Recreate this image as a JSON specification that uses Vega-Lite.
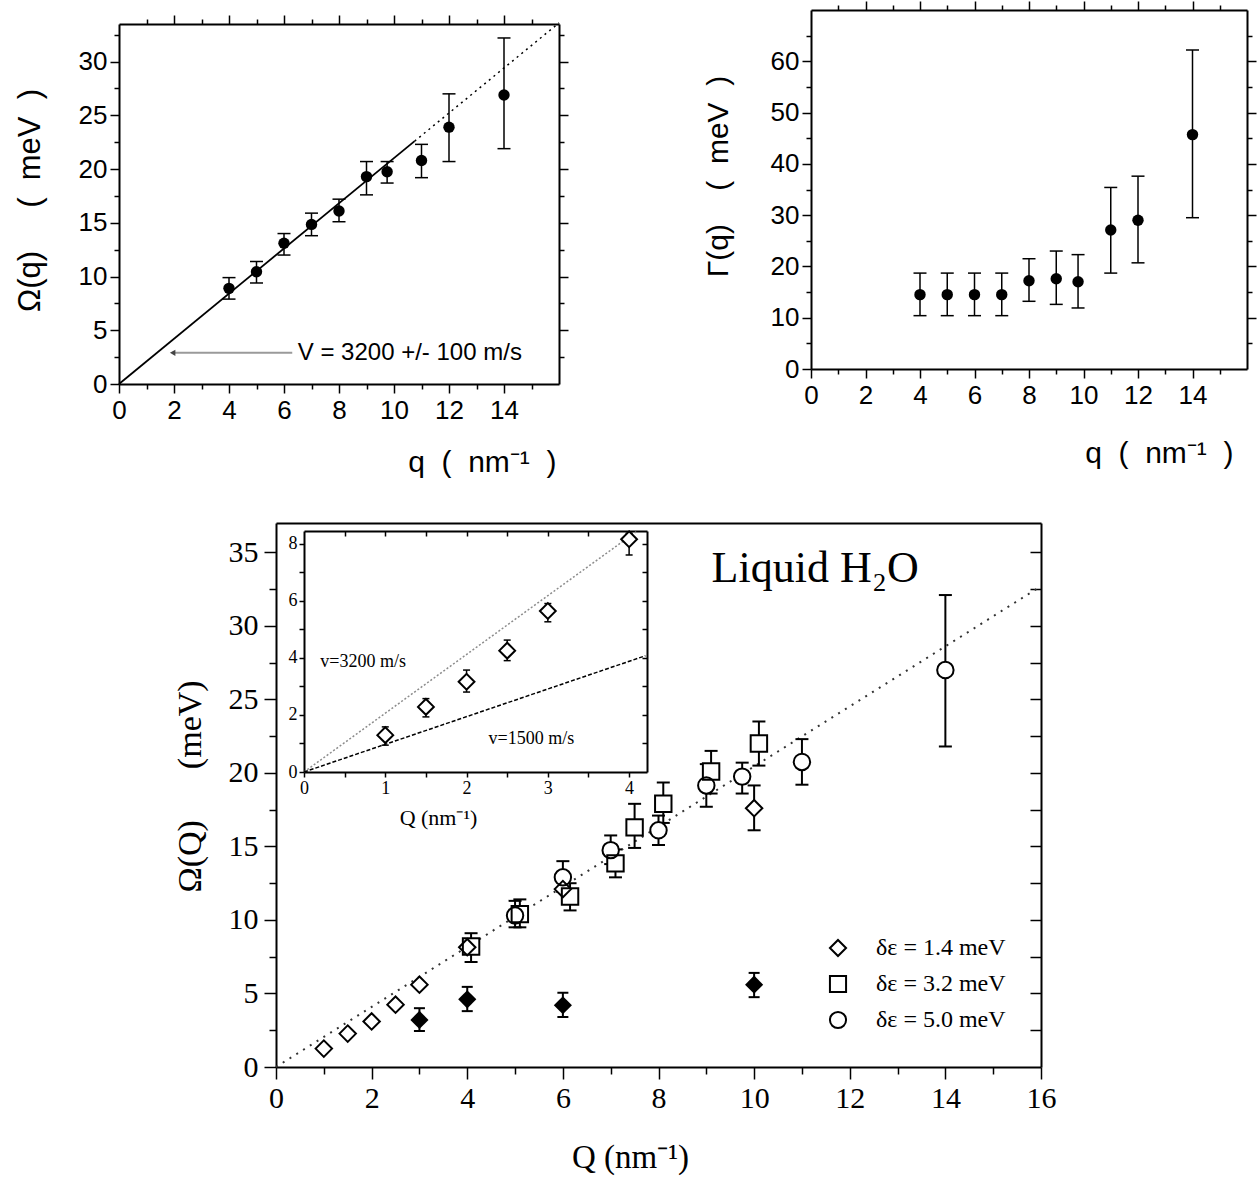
{
  "$schema": "https://vega.github.io/schema/vega-lite/v6.json",
  "width": 1257,
  "height": 1179,
  "autosize": {"type": "none"},
  "padding": 0,
  "background": "white",
  "config": {
    "view": {"stroke": null},
    "axis": {"grid": false, "domainColor": "black", "tickColor": "black", "labelColor": "black", "titleColor": "black", "titleFontWeight": "normal", "labelFlush": false, "labelOverlap": false, "domainWidth": 2, "tickWidth": 1.5},
    "legend": {"symbolStrokeColor": "black", "symbolFillColor": "white", "symbolStrokeWidth": 2, "symbolOpacity": 1}
  },
  "datasets": {
    "tl": [
      {"q": 4, "w": 8.9, "lo": 7.9, "hi": 9.9},
      {"q": 5, "w": 10.45, "lo": 9.4, "hi": 11.4},
      {"q": 6, "w": 13.1, "lo": 12.0, "hi": 14.0},
      {"q": 7, "w": 14.85, "lo": 13.8, "hi": 15.9},
      {"q": 8, "w": 16.1, "lo": 15.1, "hi": 17.2},
      {"q": 9, "w": 19.3, "lo": 17.6, "hi": 20.7},
      {"q": 9.75, "w": 19.75, "lo": 18.7, "hi": 20.7},
      {"q": 11, "w": 20.8, "lo": 19.2, "hi": 22.3},
      {"q": 12, "w": 23.9, "lo": 20.7, "hi": 27.0},
      {"q": 14, "w": 26.9, "lo": 21.9, "hi": 32.2}
    ],
    "tlfit": [
      {"q": 0, "w": 0, "seg": "solid"},
      {"q": 10.75, "w": 22.6, "seg": "solid"},
      {"q": 10.75, "w": 22.6, "seg": "dotted"},
      {"q": 16, "w": 33.6, "seg": "dotted"}
    ],
    "tlnote": [
      {"q": 1.95, "q2": 6.3, "w": 2.9, "tq": 6.5, "label": "V = 3200 +/- 100 m/s"}
    ],
    "tr": [
      {"q": 4, "g": 14.5, "lo": 10.4, "hi": 18.7},
      {"q": 5, "g": 14.5, "lo": 10.4, "hi": 18.7},
      {"q": 6, "g": 14.5, "lo": 10.4, "hi": 18.7},
      {"q": 7, "g": 14.5, "lo": 10.4, "hi": 18.7},
      {"q": 8, "g": 17.2, "lo": 13.2, "hi": 21.5},
      {"q": 9, "g": 17.6, "lo": 12.6, "hi": 23.0},
      {"q": 9.8, "g": 17.0, "lo": 11.9, "hi": 22.3},
      {"q": 11, "g": 27.1, "lo": 18.7, "hi": 35.4},
      {"q": 12, "g": 29.0, "lo": 20.7, "hi": 37.6},
      {"q": 14, "g": 45.7, "lo": 29.5, "hi": 62.2}
    ],
    "main": [
      {"Q": 1, "w": 1.25, "lo": null, "hi": null, "series": "δε = 1.4 meV"},
      {"Q": 1.5, "w": 2.27, "lo": null, "hi": null, "series": "δε = 1.4 meV"},
      {"Q": 2, "w": 3.1, "lo": null, "hi": null, "series": "δε = 1.4 meV"},
      {"Q": 2.5, "w": 4.24, "lo": null, "hi": null, "series": "δε = 1.4 meV"},
      {"Q": 3, "w": 5.6, "lo": null, "hi": null, "series": "δε = 1.4 meV"},
      {"Q": 4, "w": 8.15, "lo": null, "hi": null, "series": "δε = 1.4 meV"},
      {"Q": 6, "w": 12.1, "lo": null, "hi": null, "series": "δε = 1.4 meV"},
      {"Q": 10, "w": 17.6, "lo": 16.1, "hi": 19.15, "series": "δε = 1.4 meV"},
      {"Q": 4.08, "w": 8.2, "lo": 7.14, "hi": 9.1, "series": "δε = 3.2 meV"},
      {"Q": 5.1, "w": 10.4, "lo": 9.5, "hi": 11.4, "series": "δε = 3.2 meV"},
      {"Q": 6.15, "w": 11.6, "lo": 10.65, "hi": 12.5, "series": "δε = 3.2 meV"},
      {"Q": 7.1, "w": 13.85, "lo": 12.9, "hi": 14.8, "series": "δε = 3.2 meV"},
      {"Q": 7.5, "w": 16.3, "lo": 14.9, "hi": 17.9, "series": "δε = 3.2 meV"},
      {"Q": 8.1, "w": 17.9, "lo": 16.6, "hi": 19.35, "series": "δε = 3.2 meV"},
      {"Q": 9.1, "w": 20.1, "lo": 18.6, "hi": 21.5, "series": "δε = 3.2 meV"},
      {"Q": 10.1, "w": 22.0, "lo": 20.5, "hi": 23.5, "series": "δε = 3.2 meV"},
      {"Q": 5, "w": 10.3, "lo": 9.5, "hi": 11.3, "series": "δε = 5.0 meV"},
      {"Q": 6, "w": 12.9, "lo": 11.9, "hi": 14.0, "series": "δε = 5.0 meV"},
      {"Q": 7, "w": 14.75, "lo": 13.8, "hi": 15.75, "series": "δε = 5.0 meV"},
      {"Q": 8, "w": 16.1, "lo": 15.1, "hi": 17.1, "series": "δε = 5.0 meV"},
      {"Q": 9, "w": 19.15, "lo": 17.7, "hi": 20.6, "series": "δε = 5.0 meV"},
      {"Q": 9.75, "w": 19.75, "lo": 18.6, "hi": 20.7, "series": "δε = 5.0 meV"},
      {"Q": 11, "w": 20.75, "lo": 19.2, "hi": 22.3, "series": "δε = 5.0 meV"},
      {"Q": 14, "w": 27.0, "lo": 21.8, "hi": 32.1, "series": "δε = 5.0 meV"}
    ],
    "mainFilled": [
      {"Q": 3, "w": 3.2, "lo": 2.45, "hi": 4.0},
      {"Q": 4, "w": 4.6, "lo": 3.8, "hi": 5.45},
      {"Q": 6, "w": 4.2, "lo": 3.4, "hi": 5.05},
      {"Q": 10, "w": 5.6, "lo": 4.75, "hi": 6.4}
    ],
    "mainFit": [
      {"Q": 0, "w": 0},
      {"Q": 16, "w": 32.7}
    ],
    "mainNote": [
      {"Q": 9.11, "w": 32.97, "label": "Liquid H₂O"}
    ],
    "inset": [
      {"Q": 1, "w": 1.29, "lo": 0.94, "hi": 1.58},
      {"Q": 1.5, "w": 2.28, "lo": 1.93, "hi": 2.57},
      {"Q": 2, "w": 3.16, "lo": 2.8, "hi": 3.57},
      {"Q": 2.5, "w": 4.25, "lo": 3.9, "hi": 4.62},
      {"Q": 3, "w": 5.64, "lo": 5.26, "hi": 5.9},
      {"Q": 4, "w": 8.15, "lo": 7.6, "hi": 8.36}
    ],
    "insetLines": [
      {"Q": 0, "w": 0, "v": "3200"},
      {"Q": 4.1, "w": 8.44, "v": "3200"},
      {"Q": 0, "w": 0, "v": "1500"},
      {"Q": 4.2, "w": 4.07, "v": "1500"}
    ],
    "insetNote": [
      {"Q": 0.2, "w": 3.84, "label": "v=3200 m/s"},
      {"Q": 2.27, "w": 1.17, "label": "v=1500 m/s"}
    ]
  },
  "layer": [
    {
      "layer": [
        {
          "data": {"name": "tlfit"},
          "transform": [{"filter": "datum.seg === 'solid'"}],
          "mark": {"type": "line", "color": "black", "strokeWidth": 1.8, "clip": true},
          "encoding": {
            "x": {"field": "q", "type": "quantitative", "scale": {"domain": [0, 16], "range": [119, 559], "nice": false, "zero": false},
              "axis": {"orient": "bottom", "offset": -795, "values": [0,1,2,3,4,5,6,7,8,9,10,11,12,13,14,15], "labelExpr": "datum.value % 2 === 0 ? datum.label : ''", "tickSize": {"condition": {"test": "datum.value % 2 === 0", "value": 9}, "value": 5}, "labelFont": "Liberation Sans", "labelFontSize": 26, "labelPadding": 4, "title": "q\u00a0\u00a0(\u00a0\u00a0nm⁻¹\u00a0\u00a0)", "titleFont": "Liberation Sans", "titleFontSize": 30, "titleAlign": "right", "titleBaseline": "middle", "titleX": 556, "titleY": 78}},
            "y": {"field": "w", "type": "quantitative", "scale": {"domain": [0, 33.5], "range": [384, 24], "nice": false, "zero": false},
              "axis": {"orient": "left", "offset": -119, "values": [0,2.5,5,7.5,10,12.5,15,17.5,20,22.5,25,27.5,30,32.5], "labelExpr": "datum.value % 5 === 0 ? datum.label : ''", "tickSize": {"condition": {"test": "datum.value % 5 === 0", "value": 9}, "value": 5}, "labelFont": "Liberation Sans", "labelFontSize": 26, "labelPadding": 3, "title": "Ω(q)\u00a0\u00a0\u00a0\u00a0\u00a0(\u00a0\u00a0meV\u00a0\u00a0)", "titleFont": "Liberation Sans", "titleFontSize": 31, "titleAngle": 270, "titleAlign": "center", "titleBaseline": "middle", "titleX": -89, "titleY": 200}}
          }
        },
        {
          "data": {"name": "tlfit"},
          "transform": [{"filter": "datum.seg === 'dotted'"}],
          "mark": {"type": "line", "color": "black", "strokeWidth": 1.5, "strokeDash": [2, 4], "clip": true},
          "encoding": {
            "x": {"field": "q", "type": "quantitative", "scale": {"domain": [0, 16], "range": [119, 559], "nice": false, "zero": false},
              "axis": {"orient": "top", "offset": -24, "values": [1,2,3,4,5,6,7,8,9,10,11,12,13,14,15], "labels": false, "tickSize": {"condition": {"test": "datum.value % 2 === 0", "value": 9}, "value": 5}, "title": null}},
            "y": {"field": "w", "type": "quantitative", "scale": {"domain": [0, 33.5], "range": [384, 24], "nice": false, "zero": false},
              "axis": {"orient": "right", "offset": -698, "values": [2.5,5,7.5,10,12.5,15,17.5,20,22.5,25,27.5,30,32.5], "labels": false, "tickSize": {"condition": {"test": "datum.value % 5 === 0", "value": 9}, "value": 5}, "title": null}}
          }
        },
        {
          "data": {"name": "tl"},
          "mark": {"type": "rule", "color": "black", "strokeWidth": 1.5},
          "encoding": {
            "x": {"field": "q", "type": "quantitative", "scale": {"domain": [0, 16], "range": [119, 559], "nice": false, "zero": false}, "axis": null},
            "y": {"field": "lo", "type": "quantitative", "scale": {"domain": [0, 33.5], "range": [384, 24], "nice": false, "zero": false}, "axis": null},
            "y2": {"field": "hi"}
          }
        },
        {
          "data": {"name": "tl"},
          "transform": [{"fold": ["lo", "hi"], "as": ["k", "v"]}],
          "mark": {"type": "tick", "orient": "horizontal", "color": "black", "size": 13, "thickness": 1.5, "opacity": 1},
          "encoding": {
            "x": {"field": "q", "type": "quantitative", "scale": {"domain": [0, 16], "range": [119, 559], "nice": false, "zero": false}, "axis": null},
            "y": {"field": "v", "type": "quantitative", "scale": {"domain": [0, 33.5], "range": [384, 24], "nice": false, "zero": false}, "axis": null}
          }
        },
        {
          "data": {"name": "tl"},
          "mark": {"type": "point", "shape": "circle", "filled": true, "color": "black", "size": 130, "opacity": 1},
          "encoding": {
            "x": {"field": "q", "type": "quantitative", "scale": {"domain": [0, 16], "range": [119, 559], "nice": false, "zero": false}, "axis": null},
            "y": {"field": "w", "type": "quantitative", "scale": {"domain": [0, 33.5], "range": [384, 24], "nice": false, "zero": false}, "axis": null}
          }
        },
        {
          "data": {"name": "tlnote"},
          "mark": {"type": "rule", "color": "#9a9a9a", "strokeWidth": 2},
          "encoding": {
            "x": {"field": "q", "type": "quantitative", "scale": {"domain": [0, 16], "range": [119, 559], "nice": false, "zero": false}, "axis": null},
            "x2": {"field": "q2"},
            "y": {"field": "w", "type": "quantitative", "scale": {"domain": [0, 33.5], "range": [384, 24], "nice": false, "zero": false}, "axis": null}
          }
        },
        {
          "data": {"name": "tlnote"},
          "mark": {"type": "point", "shape": "triangle-left", "filled": true, "color": "#444444", "size": 40, "opacity": 1},
          "encoding": {
            "x": {"field": "q", "type": "quantitative", "scale": {"domain": [0, 16], "range": [119, 559], "nice": false, "zero": false}, "axis": null},
            "y": {"field": "w", "type": "quantitative", "scale": {"domain": [0, 33.5], "range": [384, 24], "nice": false, "zero": false}, "axis": null}
          }
        },
        {
          "data": {"name": "tlnote"},
          "mark": {"type": "text", "align": "left", "baseline": "middle", "font": "Liberation Sans", "fontSize": 24, "color": "black"},
          "encoding": {
            "x": {"field": "tq", "type": "quantitative", "scale": {"domain": [0, 16], "range": [119, 559], "nice": false, "zero": false}, "axis": null},
            "y": {"field": "w", "type": "quantitative", "scale": {"domain": [0, 33.5], "range": [384, 24], "nice": false, "zero": false}, "axis": null},
            "text": {"field": "label"}
          }
        }
      ],
      "resolve": {"axis": {"x": "independent", "y": "independent"}}
    },
    {
      "layer": [
        {
          "data": {"name": "tr"},
          "mark": {"type": "rule", "color": "black", "strokeWidth": 1.5},
          "encoding": {
            "x": {"field": "q", "type": "quantitative", "scale": {"domain": [0, 16], "range": [811, 1247], "nice": false, "zero": false},
              "axis": {"orient": "bottom", "offset": -810, "values": [0,1,2,3,4,5,6,7,8,9,10,11,12,13,14,15], "labelExpr": "datum.value % 2 === 0 ? datum.label : ''", "tickSize": {"condition": {"test": "datum.value % 2 === 0", "value": 9}, "value": 5}, "labelFont": "Liberation Sans", "labelFontSize": 26, "labelPadding": 4, "title": "q\u00a0\u00a0(\u00a0\u00a0nm⁻¹\u00a0\u00a0)", "titleFont": "Liberation Sans", "titleFontSize": 30, "titleAlign": "right", "titleBaseline": "middle", "titleX": 1233, "titleY": 84}},
            "y": {"field": "lo", "type": "quantitative", "scale": {"domain": [0, 70], "range": [369, 10], "nice": false, "zero": false},
              "axis": {"orient": "left", "offset": -811, "values": [0,5,10,15,20,25,30,35,40,45,50,55,60,65], "labelExpr": "datum.value % 10 === 0 ? datum.label : ''", "tickSize": {"condition": {"test": "datum.value % 10 === 0", "value": 9}, "value": 5}, "labelFont": "Liberation Sans", "labelFontSize": 26, "labelPadding": 3, "title": "Γ(q)\u00a0\u00a0\u00a0\u00a0(\u00a0\u00a0meV\u00a0\u00a0)", "titleFont": "Liberation Sans", "titleFontSize": 30, "titleAngle": 270, "titleAlign": "center", "titleBaseline": "middle", "titleX": -93, "titleY": 176}},
            "y2": {"field": "hi"}
          }
        },
        {
          "data": {"name": "tr"},
          "transform": [{"fold": ["lo", "hi"], "as": ["k", "v"]}],
          "mark": {"type": "tick", "orient": "horizontal", "color": "black", "size": 13, "thickness": 1.5, "opacity": 1},
          "encoding": {
            "x": {"field": "q", "type": "quantitative", "scale": {"domain": [0, 16], "range": [811, 1247], "nice": false, "zero": false},
              "axis": {"orient": "top", "offset": -10, "values": [1,2,3,4,5,6,7,8,9,10,11,12,13,14,15], "labels": false, "tickSize": {"condition": {"test": "datum.value % 2 === 0", "value": 9}, "value": 5}, "title": null}},
            "y": {"field": "v", "type": "quantitative", "scale": {"domain": [0, 70], "range": [369, 10], "nice": false, "zero": false},
              "axis": {"orient": "right", "offset": -10, "values": [5,10,15,20,25,30,35,40,45,50,55,60,65], "labels": false, "tickSize": {"condition": {"test": "datum.value % 10 === 0", "value": 9}, "value": 5}, "title": null}}
          }
        },
        {
          "data": {"name": "tr"},
          "mark": {"type": "point", "shape": "circle", "filled": true, "color": "black", "size": 130, "opacity": 1},
          "encoding": {
            "x": {"field": "q", "type": "quantitative", "scale": {"domain": [0, 16], "range": [811, 1247], "nice": false, "zero": false}, "axis": null},
            "y": {"field": "g", "type": "quantitative", "scale": {"domain": [0, 70], "range": [369, 10], "nice": false, "zero": false}, "axis": null}
          }
        }
      ],
      "resolve": {"axis": {"x": "independent", "y": "independent"}}
    },
    {
      "layer": [
        {
          "data": {"name": "mainFit"},
          "mark": {"type": "line", "color": "#333333", "strokeWidth": 2, "strokeDash": [2, 6]},
          "encoding": {
            "x": {"field": "Q", "type": "quantitative", "scale": {"domain": [0, 16], "range": [276, 1041], "nice": false, "zero": false},
              "axis": {"orient": "bottom", "offset": -112, "values": [0,1,2,3,4,5,6,7,8,9,10,11,12,13,14,15,16], "labelExpr": "datum.value % 2 === 0 ? datum.label : ''", "tickSize": {"condition": {"test": "datum.value % 2 === 0", "value": 12}, "value": 7}, "labelFont": "Liberation Serif", "labelFontSize": 30, "labelPadding": 4, "title": "Q (nm⁻¹)", "titleFont": "Liberation Serif", "titleFontSize": 33, "titleAlign": "center", "titleBaseline": "middle", "titleX": 630, "titleY": 90}},
            "y": {"field": "w", "type": "quantitative", "scale": {"domain": [0, 37], "range": [1067, 523], "nice": false, "zero": false},
              "axis": {"orient": "left", "offset": -276, "values": [0,2.5,5,7.5,10,12.5,15,17.5,20,22.5,25,27.5,30,32.5,35], "labelExpr": "datum.value % 5 === 0 ? datum.label : ''", "tickSize": {"condition": {"test": "datum.value % 5 === 0", "value": 12}, "value": 7}, "labelFont": "Liberation Serif", "labelFontSize": 30, "labelPadding": 6, "title": "Ω(Q)\u00a0\u00a0\u00a0\u00a0\u00a0\u00a0(meV)", "titleFont": "Liberation Serif", "titleFontSize": 34, "titleAngle": 270, "titleAlign": "center", "titleBaseline": "middle", "titleX": -86, "titleY": 786}}
          }
        },
        {
          "data": {"name": "main"},
          "transform": [{"filter": "datum.lo != null"}],
          "mark": {"type": "rule", "color": "black", "strokeWidth": 2},
          "encoding": {
            "x": {"field": "Q", "type": "quantitative", "scale": {"domain": [0, 16], "range": [276, 1041], "nice": false, "zero": false},
              "axis": {"orient": "top", "offset": -523, "ticks": false, "labels": false, "title": null}},
            "y": {"field": "lo", "type": "quantitative", "scale": {"domain": [0, 37], "range": [1067, 523], "nice": false, "zero": false},
              "axis": {"orient": "left", "offset": -1041, "values": [2.5,5,7.5,10,12.5,15,17.5,20,22.5,25,27.5,30,32.5,35], "labels": false, "tickSize": 11, "title": null}},
            "y2": {"field": "hi"}
          }
        },
        {
          "data": {"name": "main"},
          "transform": [{"filter": "datum.lo != null"}, {"fold": ["lo", "hi"], "as": ["k", "v"]}],
          "mark": {"type": "tick", "orient": "horizontal", "color": "black", "size": 13, "thickness": 2, "opacity": 1},
          "encoding": {
            "x": {"field": "Q", "type": "quantitative", "scale": {"domain": [0, 16], "range": [276, 1041], "nice": false, "zero": false}, "axis": null},
            "y": {"field": "v", "type": "quantitative", "scale": {"domain": [0, 37], "range": [1067, 523], "nice": false, "zero": false}, "axis": null}
          }
        },
        {
          "data": {"name": "mainFilled"},
          "mark": {"type": "rule", "color": "black", "strokeWidth": 2},
          "encoding": {
            "x": {"field": "Q", "type": "quantitative", "scale": {"domain": [0, 16], "range": [276, 1041], "nice": false, "zero": false}, "axis": null},
            "y": {"field": "lo", "type": "quantitative", "scale": {"domain": [0, 37], "range": [1067, 523], "nice": false, "zero": false}, "axis": null},
            "y2": {"field": "hi"}
          }
        },
        {
          "data": {"name": "mainFilled"},
          "transform": [{"fold": ["lo", "hi"], "as": ["k", "v"]}],
          "mark": {"type": "tick", "orient": "horizontal", "color": "black", "size": 11, "thickness": 2, "opacity": 1},
          "encoding": {
            "x": {"field": "Q", "type": "quantitative", "scale": {"domain": [0, 16], "range": [276, 1041], "nice": false, "zero": false}, "axis": null},
            "y": {"field": "v", "type": "quantitative", "scale": {"domain": [0, 37], "range": [1067, 523], "nice": false, "zero": false}, "axis": null}
          }
        },
        {
          "data": {"name": "main"},
          "transform": [{"filter": "datum.series === 'δε = 1.4 meV'"}],
          "mark": {"type": "point", "shape": "diamond", "filled": true, "color": "white", "size": 270, "opacity": 1},
          "encoding": {
            "x": {"field": "Q", "type": "quantitative", "scale": {"domain": [0, 16], "range": [276, 1041], "nice": false, "zero": false}, "axis": null},
            "y": {"field": "w", "type": "quantitative", "scale": {"domain": [0, 37], "range": [1067, 523], "nice": false, "zero": false}, "axis": null}
          }
        },
        {
          "data": {"name": "main"},
          "transform": [{"filter": "datum.series === 'δε = 3.2 meV'"}],
          "mark": {"type": "point", "shape": "square", "filled": true, "color": "white", "size": 270, "opacity": 1},
          "encoding": {
            "x": {"field": "Q", "type": "quantitative", "scale": {"domain": [0, 16], "range": [276, 1041], "nice": false, "zero": false}, "axis": null},
            "y": {"field": "w", "type": "quantitative", "scale": {"domain": [0, 37], "range": [1067, 523], "nice": false, "zero": false}, "axis": null}
          }
        },
        {
          "data": {"name": "main"},
          "transform": [{"filter": "datum.series === 'δε = 5.0 meV'"}],
          "mark": {"type": "point", "shape": "circle", "filled": true, "color": "white", "size": 270, "opacity": 1},
          "encoding": {
            "x": {"field": "Q", "type": "quantitative", "scale": {"domain": [0, 16], "range": [276, 1041], "nice": false, "zero": false}, "axis": null},
            "y": {"field": "w", "type": "quantitative", "scale": {"domain": [0, 37], "range": [1067, 523], "nice": false, "zero": false}, "axis": null}
          }
        },
        {
          "data": {"name": "main"},
          "mark": {"type": "point", "filled": false, "color": "black", "strokeWidth": 2, "size": 270, "opacity": 1},
          "encoding": {
            "x": {"field": "Q", "type": "quantitative", "scale": {"domain": [0, 16], "range": [276, 1041], "nice": false, "zero": false}, "axis": null},
            "y": {"field": "w", "type": "quantitative", "scale": {"domain": [0, 37], "range": [1067, 523], "nice": false, "zero": false}, "axis": null},
            "shape": {"field": "series", "type": "nominal",
              "scale": {"domain": ["δε = 1.4 meV", "δε = 3.2 meV", "δε = 5.0 meV"], "range": ["diamond", "square", "circle"]},
              "legend": {"orient": "none", "legendX": 826, "legendY": 936, "direction": "vertical", "title": null, "padding": 0, "labelFont": "Liberation Serif", "labelFontSize": 24, "labelColor": "black", "labelOffset": 26, "rowPadding": 10, "symbolSize": 260}}
          }
        },
        {
          "data": {"name": "mainFilled"},
          "mark": {"type": "point", "shape": "diamond", "filled": true, "color": "black", "size": 330, "opacity": 1},
          "encoding": {
            "x": {"field": "Q", "type": "quantitative", "scale": {"domain": [0, 16], "range": [276, 1041], "nice": false, "zero": false}, "axis": null},
            "y": {"field": "w", "type": "quantitative", "scale": {"domain": [0, 37], "range": [1067, 523], "nice": false, "zero": false}, "axis": null}
          }
        },
        {
          "data": {"name": "mainNote"},
          "mark": {"type": "text", "align": "left", "baseline": "alphabetic", "font": "Liberation Serif", "fontSize": 44, "color": "black"},
          "encoding": {
            "x": {"field": "Q", "type": "quantitative", "scale": {"domain": [0, 16], "range": [276, 1041], "nice": false, "zero": false}, "axis": null},
            "y": {"field": "w", "type": "quantitative", "scale": {"domain": [0, 37], "range": [1067, 523], "nice": false, "zero": false}, "axis": null},
            "text": {"field": "label"}
          }
        }
      ],
      "resolve": {"axis": {"x": "independent", "y": "independent"}}
    },
    {
      "layer": [
        {
          "data": {"name": "insetLines"},
          "transform": [{"filter": "datum.v === '3200'"}],
          "mark": {"type": "line", "color": "#8c8c8c", "strokeWidth": 1.5, "strokeDash": [2, 2], "clip": true},
          "encoding": {
            "x": {"field": "Q", "type": "quantitative", "scale": {"domain": [0, 4.22], "range": [304, 647], "nice": false, "zero": false},
              "axis": {"orient": "bottom", "offset": -407, "values": [0,0.5,1,1.5,2,2.5,3,3.5,4], "labelExpr": "datum.value % 1 === 0 ? '' + datum.value : ''", "tickSize": 5, "labelFont": "Liberation Serif", "labelFontSize": 18, "labelPadding": 2, "title": "Q (nm⁻¹)", "titleFont": "Liberation Serif", "titleFontSize": 22, "titleAlign": "center", "titleBaseline": "middle", "titleX": 438, "titleY": 45}},
            "y": {"field": "w", "type": "quantitative", "scale": {"domain": [0, 8.44], "range": [772, 531], "nice": false, "zero": false},
              "axis": {"orient": "left", "offset": -304, "values": [0,1,2,3,4,5,6,7,8], "labelExpr": "datum.value % 2 === 0 ? '' + datum.value : ''", "tickSize": 5, "labelFont": "Liberation Serif", "labelFontSize": 18, "labelPadding": 2, "title": null}}
          }
        },
        {
          "data": {"name": "insetLines"},
          "transform": [{"filter": "datum.v === '1500'"}],
          "mark": {"type": "line", "color": "black", "strokeWidth": 1.5, "strokeDash": [4, 2], "clip": true},
          "encoding": {
            "x": {"field": "Q", "type": "quantitative", "scale": {"domain": [0, 4.22], "range": [304, 647], "nice": false, "zero": false},
              "axis": {"orient": "bottom", "offset": -648, "values": [0.5,1,1.5,2,2.5,3,3.5,4], "labels": false, "tickSize": 5, "title": null}},
            "y": {"field": "w", "type": "quantitative", "scale": {"domain": [0, 8.44], "range": [772, 531], "nice": false, "zero": false},
              "axis": {"orient": "left", "offset": -647, "values": [1,2,3,4,5,6,7,8], "labels": false, "tickSize": 5, "title": null}}
          }
        },
        {
          "data": {"name": "inset"},
          "mark": {"type": "rule", "color": "black", "strokeWidth": 1.5},
          "encoding": {
            "x": {"field": "Q", "type": "quantitative", "scale": {"domain": [0, 4.22], "range": [304, 647], "nice": false, "zero": false}, "axis": null},
            "y": {"field": "lo", "type": "quantitative", "scale": {"domain": [0, 8.44], "range": [772, 531], "nice": false, "zero": false}, "axis": null},
            "y2": {"field": "hi"}
          }
        },
        {
          "data": {"name": "inset"},
          "transform": [{"fold": ["lo", "hi"], "as": ["k", "v"]}],
          "mark": {"type": "tick", "orient": "horizontal", "color": "black", "size": 7, "thickness": 1.5, "opacity": 1},
          "encoding": {
            "x": {"field": "Q", "type": "quantitative", "scale": {"domain": [0, 4.22], "range": [304, 647], "nice": false, "zero": false}, "axis": null},
            "y": {"field": "v", "type": "quantitative", "scale": {"domain": [0, 8.44], "range": [772, 531], "nice": false, "zero": false}, "axis": null}
          }
        },
        {
          "data": {"name": "inset"},
          "mark": {"type": "point", "shape": "diamond", "filled": true, "fill": "white", "stroke": "black", "strokeWidth": 2, "size": 250, "opacity": 1},
          "encoding": {
            "x": {"field": "Q", "type": "quantitative", "scale": {"domain": [0, 4.22], "range": [304, 647], "nice": false, "zero": false}, "axis": null},
            "y": {"field": "w", "type": "quantitative", "scale": {"domain": [0, 8.44], "range": [772, 531], "nice": false, "zero": false}, "axis": null}
          }
        },
        {
          "data": {"name": "insetNote"},
          "mark": {"type": "text", "align": "left", "baseline": "middle", "font": "Liberation Serif", "fontSize": 18, "color": "black"},
          "encoding": {
            "x": {"field": "Q", "type": "quantitative", "scale": {"domain": [0, 4.22], "range": [304, 647], "nice": false, "zero": false}, "axis": null},
            "y": {"field": "w", "type": "quantitative", "scale": {"domain": [0, 8.44], "range": [772, 531], "nice": false, "zero": false}, "axis": null},
            "text": {"field": "label"}
          }
        }
      ],
      "resolve": {"axis": {"x": "independent", "y": "independent"}}
    }
  ],
  "resolve": {"scale": {"x": "independent", "y": "independent"}}
}
